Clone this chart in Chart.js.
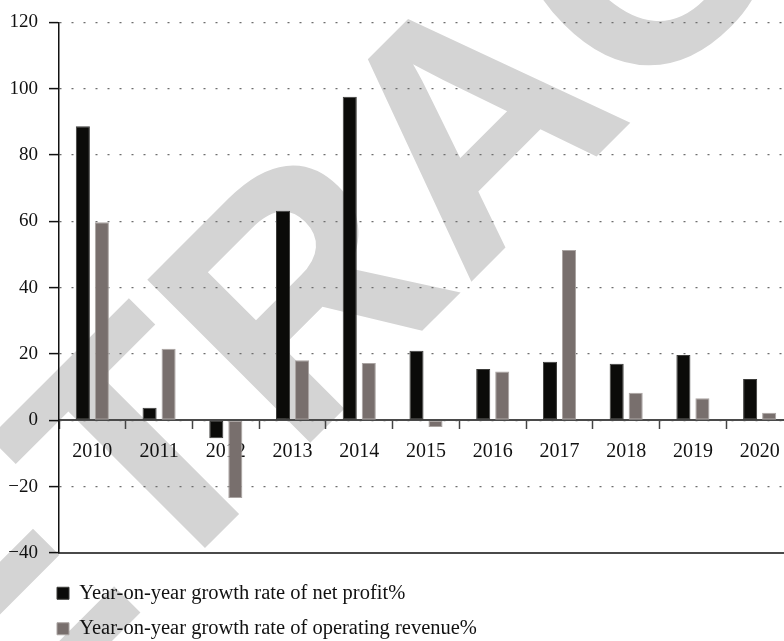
<!DOCTYPE html>
<html>
<head>
<meta charset="utf-8">
<script src="https://cdn.jsdelivr.net/npm/chart.js@4"></script>
<style>
  html, body { margin: 0; padding: 0; background: #fff; overflow: hidden; }
  #wrap { width: 800px; height: 649px; }
</style>
</head>
<body>
<div id="wrap"><canvas id="growthChart"></canvas></div>
<script>
// values
const years = ['2010','2011','2012','2013','2014','2015','2016','2017','2018','2019','2020'];
const netProfitGrowth = [88.7, 3.8, -5.4, 63.2, 97.6, 21.0, 15.5, 17.7, 17.1, 19.7, 12.5];
const revenueGrowth = [59.7, 21.6, -23.4, 18.1, 17.3, -2.0, 14.7, 51.4, 8.3, 6.7, 2.3];
const seriesNames = ['Year-on-year growth rate of net profit%', 'Year-on-year growth rate of operating revenue%'];
const yTicks = [-40, -20, 0, 20, 40, 60, 80, 100, 120];

const serif = '"Liberation Serif", "DejaVu Serif", serif';

// grey "RETRACTED" stamp behind the chart
const stamp = {
  id: 'stamp',
  beforeDraw(chart){
    const c = chart.ctx;
    c.save();
    c.fillStyle = '#d4d4d4';
    c.font = 'bold 335px "Liberation Sans", Arial, sans-serif';
    c.textAlign = 'center';
    c.textBaseline = 'alphabetic';
    c.translate(551, 202);
    c.rotate(-Math.PI / 4);
    c.fillText('RETRACTED', 0, 0);
    c.restore();
  }
};

// legend sits under the plot, starting at the axis
const legendShift = {
  id: 'legendShift',
  afterLayout(chart){
    const lg = chart.legend;
    if (lg) { lg.left += 42; lg.right += 42; }
  }
};

const ctx = document.getElementById('growthChart').getContext('2d');
new Chart(ctx, {
  type: 'bar',
  data: {
    labels: years,
    datasets: [{
      label: seriesNames[0],
      data: netProfitGrowth,
      backgroundColor: '#0b0b09',
      borderColor: '#3c3c3a',
      borderWidth: 1,
      borderSkipped: false
    }, {
      label: seriesNames[1],
      data: revenueGrowth,
      backgroundColor: '#786f6d',
      borderColor: '#aaa4a2',
      borderWidth: 1,
      borderSkipped: false
    }]
  },
  options: {
    responsive: true,
    maintainAspectRatio: false,
    animation: false,
    categoryPercentage: 0.57,
    barPercentage: 0.74,
    layout: { padding: { left: 0, right: 7, top: 20, bottom: 0 } },
    plugins: {
      legend: {
        position: 'bottom',
        align: 'start',
        labels: {
          boxWidth: 12,
          boxHeight: 12,
          padding: 15,
          color: '#111',
          font: { family: serif, size: 20.5 }
        }
      },
      tooltip: { enabled: false }
    },
    scales: {
      x: {
        type: 'category',
        position: { y: 0 },
        grid: { drawOnChartArea: false, drawTicks: true, tickLength: 8, tickColor: '#444', tickWidth: 1.5 },
        border: { color: '#4a4a4a', width: 2 },
        ticks: { color: '#111', padding: 11, maxRotation: 0, font: { family: serif, size: 20 } }
      },
      x2: {
        type: 'category',
        position: 'bottom',
        grid: { display: false },
        border: { color: '#4a4a4a', width: 2 },
        ticks: { display: false },
        afterFit(scale){ scale.height = 15; }
      },
      y: {
        min: -40,
        max: 120,
        afterBuildTicks(scale){ scale.ticks = yTicks.map(v => ({ value: v })); },
        afterFit(scale){ scale.width = 59; },
        grid: { color: '#6e6e6e', lineWidth: 1.2, tickLength: 10, tickColor: '#111', tickWidth: 1.5 },
        border: { color: '#111', width: 1.5, dash: [2, 10] },
        ticks: {
          color: '#111',
          padding: 11,
          font: { family: serif, size: 19 },
          callback: v => String(v).replace('-', '\u2212')
        }
      }
    }
  },
  plugins: [stamp, legendShift]
});
</script>
</body>
</html>
